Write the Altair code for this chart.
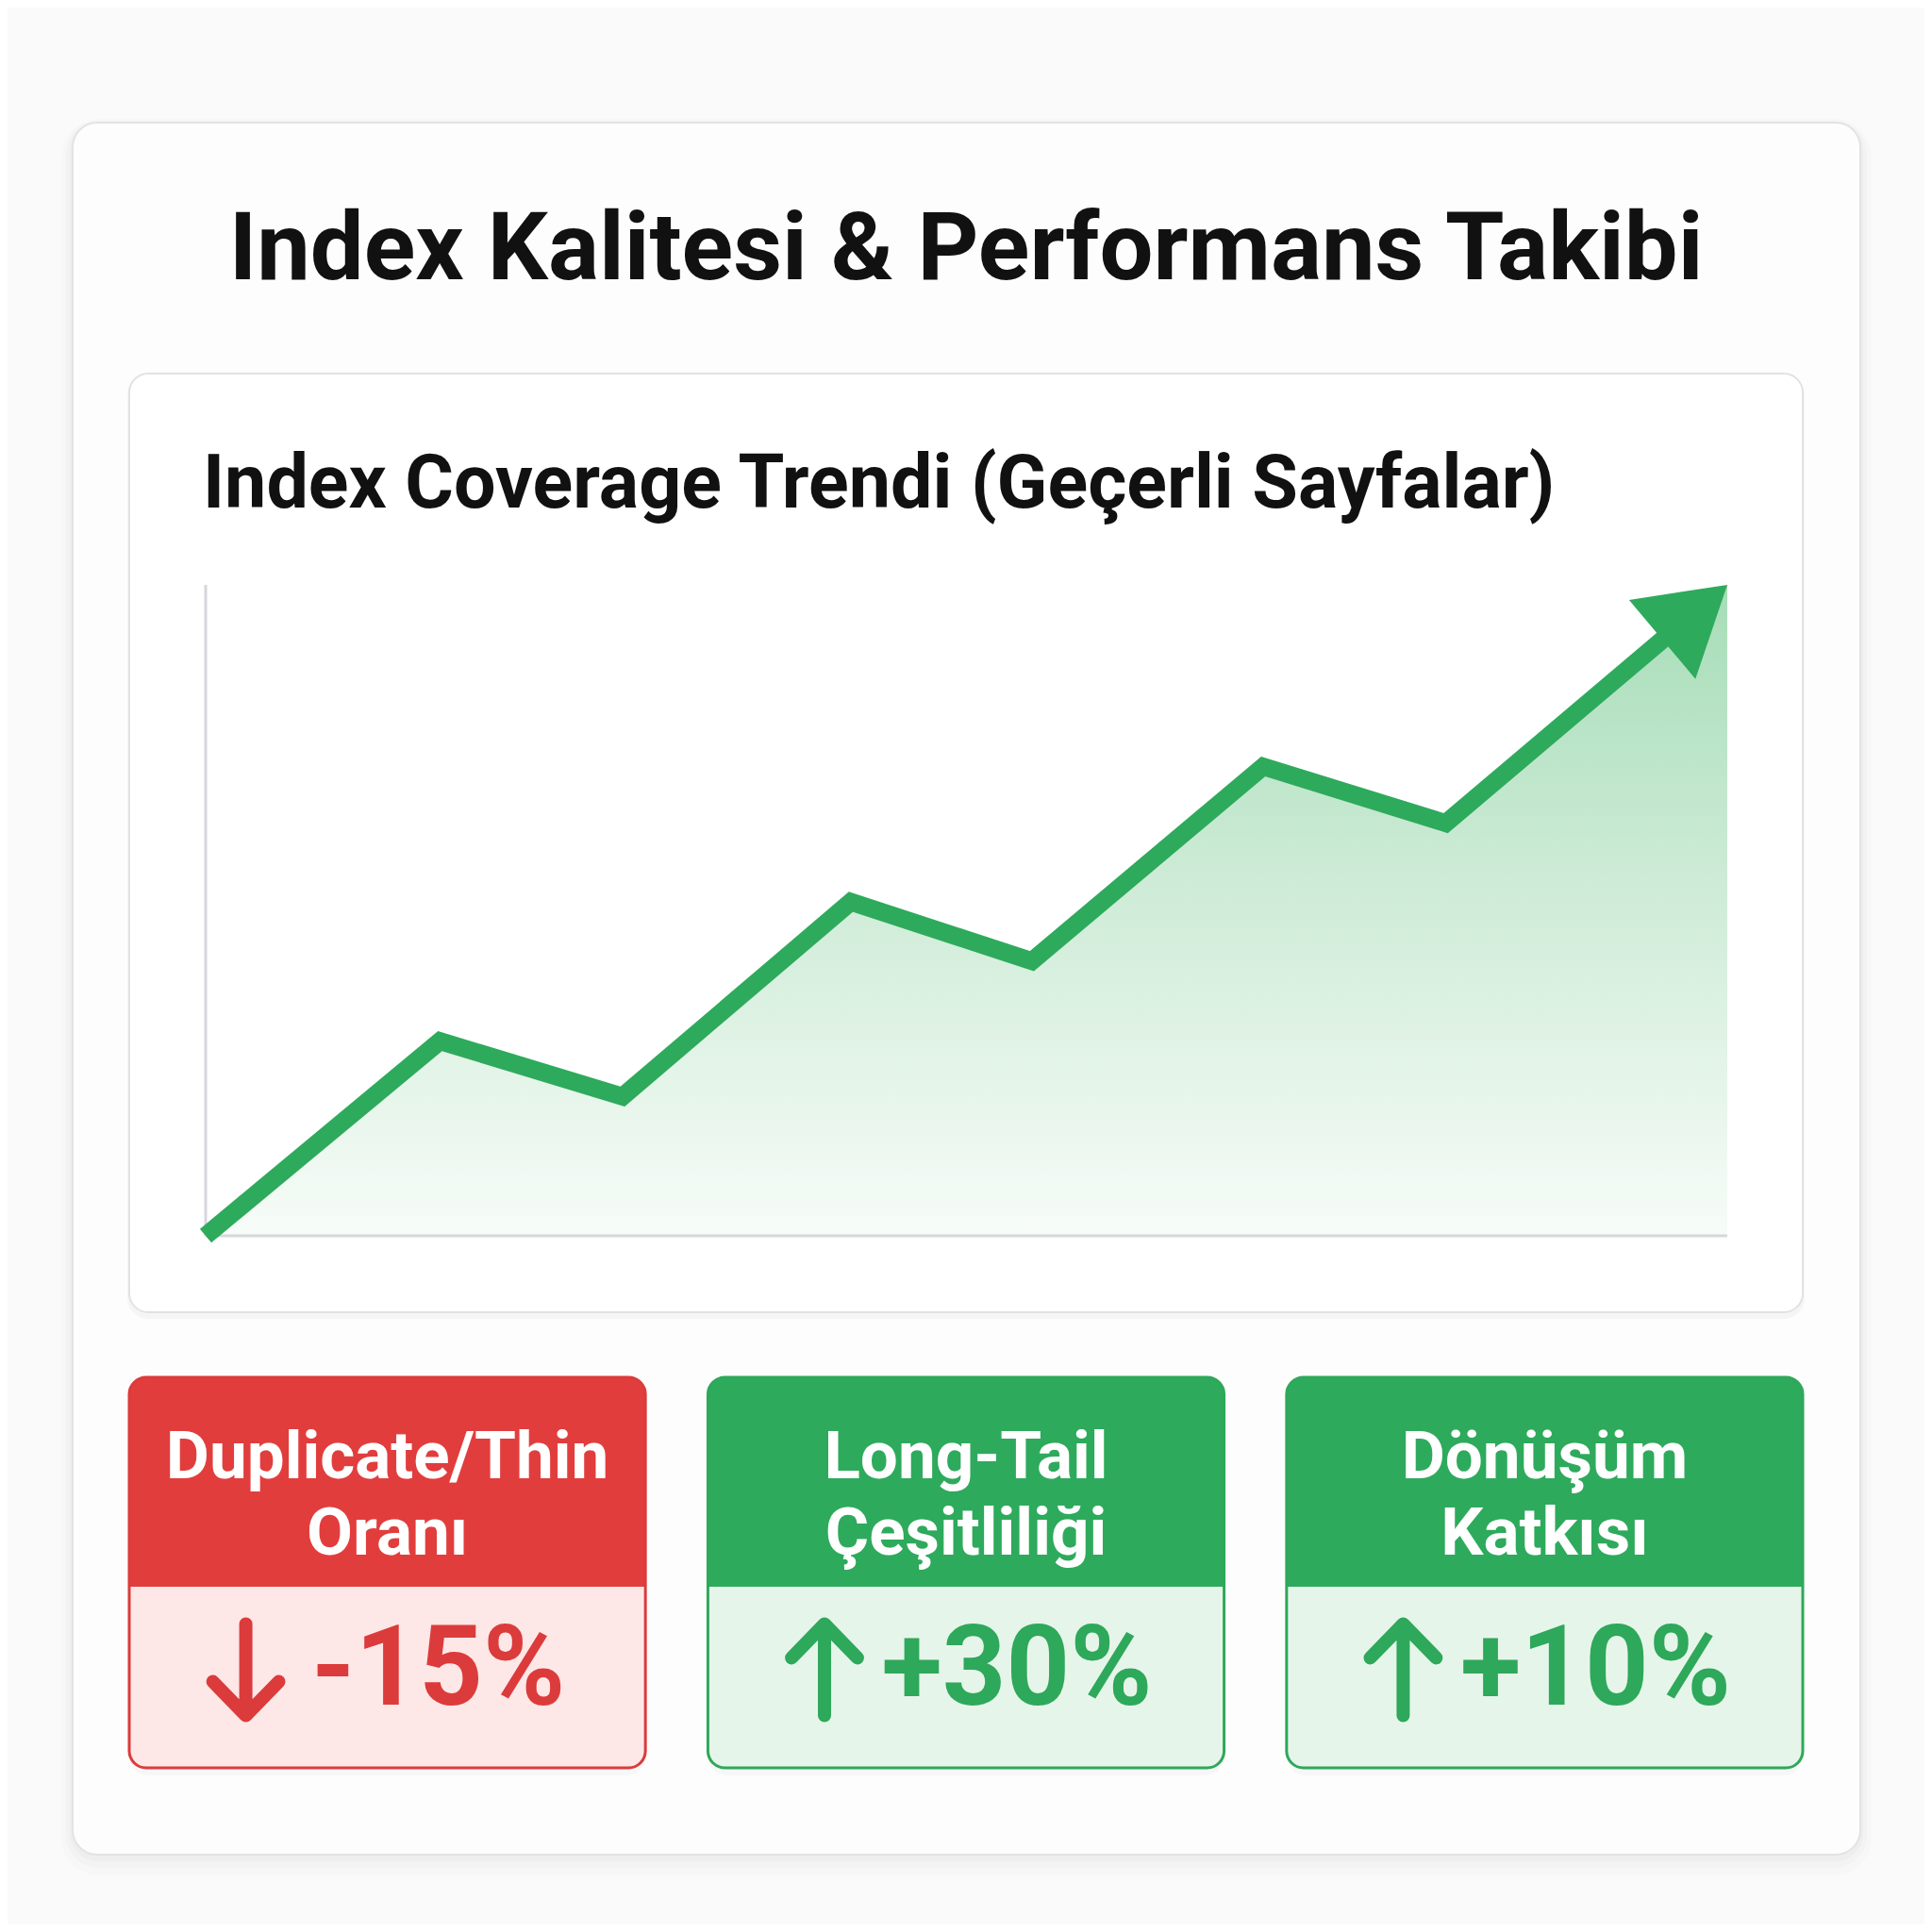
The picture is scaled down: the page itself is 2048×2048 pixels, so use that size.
import altair as alt
import pandas as pd

# ---------------- data ----------------
title_text = ["Index Kalitesi & Performans Takibi"]
subtitle_text = ["Index Coverage Trendi (Geçerli Sayfalar)"]

trend_x = [0, 15.4, 27.4, 42.4, 54.3, 69.5, 81.5, 100]
trend_y = [0, 29.9, 21.4, 51.3, 42.2, 72.1, 63.4, 100]

kpi_names = ["Duplicate/Thin\nOranı", "Long-Tail\nÇeşitliliği", "Dönüşüm\nKatkısı"]
kpi_values = [-15, 30, 10]
kpi_labels = ["-15%", "+30%", "+10%"]

# ---------------- styling ----------------
GREEN = "#2eaa5c"
RED = "#e23d3d"
FONT = "Roboto"

trend = pd.DataFrame({"x": trend_x, "y": trend_y})
# the line stops at the base of the arrow head, the head's tip is the last point
frac = 0.2
line_df = trend.copy()
line_df.loc[len(line_df) - 1, "x"] = trend_x[-1] - frac * (trend_x[-1] - trend_x[-2])
line_df.loc[len(line_df) - 1, "y"] = trend_y[-1] - frac * (trend_y[-1] - trend_y[-2])
tip_df = trend.tail(1)

kpi = pd.DataFrame({"name": kpi_names, "value": kpi_values, "label": kpi_labels})

xs = alt.Scale(domain=[0, 100], range=[210, 1823])
ys = alt.Scale(domain=[0, 100], range=[1302, 612])

one = pd.DataFrame({"k": [0]})


def box(x1, x2, y1, y2, **kw):
    return alt.Chart(one).mark_rect(**kw).encode(
        x=alt.value(x1), x2=alt.value(x2), y=alt.value(y1), y2=alt.value(y2)
    )


# outer card + soft shadow
shadows = [
    box(69 - 12, 1964 + 12, 122 - 4, 1958 + 22, cornerRadius=40, fill="#000000", fillOpacity=0.012),
    box(69 - 7, 1964 + 7, 122 - 2, 1958 + 14, cornerRadius=34, fill="#000000", fillOpacity=0.015),
    box(69 - 3, 1964 + 3, 122, 1958 + 7, cornerRadius=29, fill="#000000", fillOpacity=0.02),
]
outer = box(69, 1964, 122, 1958, cornerRadius=26, fill="#fdfdfd", stroke="#e3e3e3", strokeWidth=2)

title = alt.Chart(pd.DataFrame({"t": title_text})).mark_text(
    font=FONT, fontSize=101, fontWeight="bold", color="#111111", align="center", baseline="middle"
).encode(x=alt.value(1016), y=alt.value(258), text="t:N")

inner_shadow = box(127, 1905, 390, 1390, cornerRadius=22, fill="#000000", fillOpacity=0.03)
inner = box(129, 1903, 388, 1383, cornerRadius=20, fill="#ffffff", stroke="#e2e2e2", strokeWidth=2)

subtitle = alt.Chart(pd.DataFrame({"t": subtitle_text})).mark_text(
    font=FONT, fontSize=79, fontWeight="bold", color="#111111", align="left", baseline="middle"
).encode(x=alt.value(207), y=alt.value(506), text="t:N")

# axis lines drawn as rules through the data scales
axis_df = pd.DataFrame({"x": [0, 0], "y": [0, 0], "x2": [0, 100], "y2": [100, 0]})
axes = alt.Chart(axis_df).mark_rule(color="#d6d6dc", strokeWidth=3).encode(
    x=alt.X("x:Q", scale=xs, axis=None),
    x2="x2:Q",
    y=alt.Y("y:Q", scale=ys, axis=None),
    y2="y2:Q",
)

area = alt.Chart(trend).mark_area(
    line=False,
    color=alt.Gradient(
        gradient="linear",
        stops=[
            alt.GradientStop(color="#a6ddb7", offset=0),
            alt.GradientStop(color="#cdebd6", offset=0.45),
            alt.GradientStop(color="#f7fcf8", offset=1),
        ],
        x1=1, x2=1, y1=0, y2=1,
    ),
).encode(
    x=alt.X("x:Q", scale=xs, axis=None),
    y=alt.Y("y:Q", scale=ys, axis=None),
)

line = alt.Chart(line_df).mark_line(
    color=GREEN, strokeWidth=19, strokeJoin="miter", strokeCap="butt"
).encode(
    x=alt.X("x:Q", scale=xs, axis=None),
    y=alt.Y("y:Q", scale=ys, axis=None),
)

head = alt.Chart(tip_df).mark_point(
    shape="M0,0L0.73,1.2L-0.73,1.2Z", size=22500, filled=True, color=GREEN, opacity=1, angle=50
).encode(
    x=alt.X("x:Q", scale=xs, axis=None),
    y=alt.Y("y:Q", scale=ys, axis=None),
)

# ---------------- KPI cards ----------------
band = alt.Scale(type="band", domain=kpi_names, range=[129, 1903], paddingInner=0.108, paddingOuter=0)
kbase = alt.Chart(kpi).transform_calculate(
    dir="datum.value < 0 ? 'down' : 'up'", rot="datum.value < 0 ? 180 : 0"
)
X = alt.X("name:N", scale=band, axis=None)


def dscale(colors):
    return alt.Scale(domain=["down", "up"], range=colors)


card_shadow = kbase.mark_rect(cornerRadius=20, fill="#000000", fillOpacity=0.025).encode(
    x=X, y=alt.value(1452), y2=alt.value(1874),
)
card_head = kbase.mark_rect(cornerRadiusTopLeft=18, cornerRadiusTopRight=18).encode(
    x=X, y=alt.value(1452), y2=alt.value(1674),
    color=alt.Color("dir:N", scale=dscale([RED, GREEN]), legend=None),
)
card_low = kbase.mark_rect(cornerRadiusBottomLeft=18, cornerRadiusBottomRight=18).encode(
    x=X, y=alt.value(1674), y2=alt.value(1866),
    color=alt.Color("dir:N", scale=dscale(["#fde7e7", "#e6f5ea"]), legend=None),
)
card_border = kbase.mark_rect(cornerRadius=18, filled=False, strokeWidth=3).encode(
    x=X, y=alt.value(1452), y2=alt.value(1866),
    color=alt.Color("dir:N", scale=dscale(["#dc3b3b", "#2ea85a"]), legend=None),
)
card_title = kbase.mark_text(
    font=FONT, fontSize=71, fontWeight="bold", color="#ffffff", lineBreak="\n",
    lineHeight=81, align="center", baseline="middle",
).encode(x=X, y=alt.value(1538), text="name:N")

card_value = kbase.mark_text(
    font=FONT, fontSize=118, fontWeight="bold", align="center", baseline="middle", xOffset=54
).encode(
    x=X, y=alt.value(1764), text="label:N",
    color=alt.Color("dir:N", scale=dscale(["#dc3b3b", "#2ea85a"]), legend=None),
)
card_arrow = kbase.mark_point(
    shape="M0,1L0,-1M-0.72,-0.26L0,-1L0.72,-0.26", size=9409, filled=False, strokeWidth=14,
    strokeCap="round", strokeJoin="round", opacity=1, xOffset=-150,
).encode(
    x=X, y=alt.value(1762),
    angle=alt.Angle("rot:Q", scale=None),
    color=alt.Color("dir:N", scale=dscale(["#dc3b3b", "#2ea85a"]), legend=None),
)

chart = alt.layer(
    *shadows, outer, title,
    inner_shadow, inner, subtitle,
    area, axes, line, head,
    card_shadow, card_head, card_low, card_border, card_title, card_value, card_arrow,
).resolve_scale(
    x="independent", y="independent", color="independent"
).properties(
    width=2032, height=2032, background="#fafafa", padding=0
).configure_view(stroke=None, fill=None)

chart.save("out.html", embed_options={"renderer": "svg", "actions": False})
